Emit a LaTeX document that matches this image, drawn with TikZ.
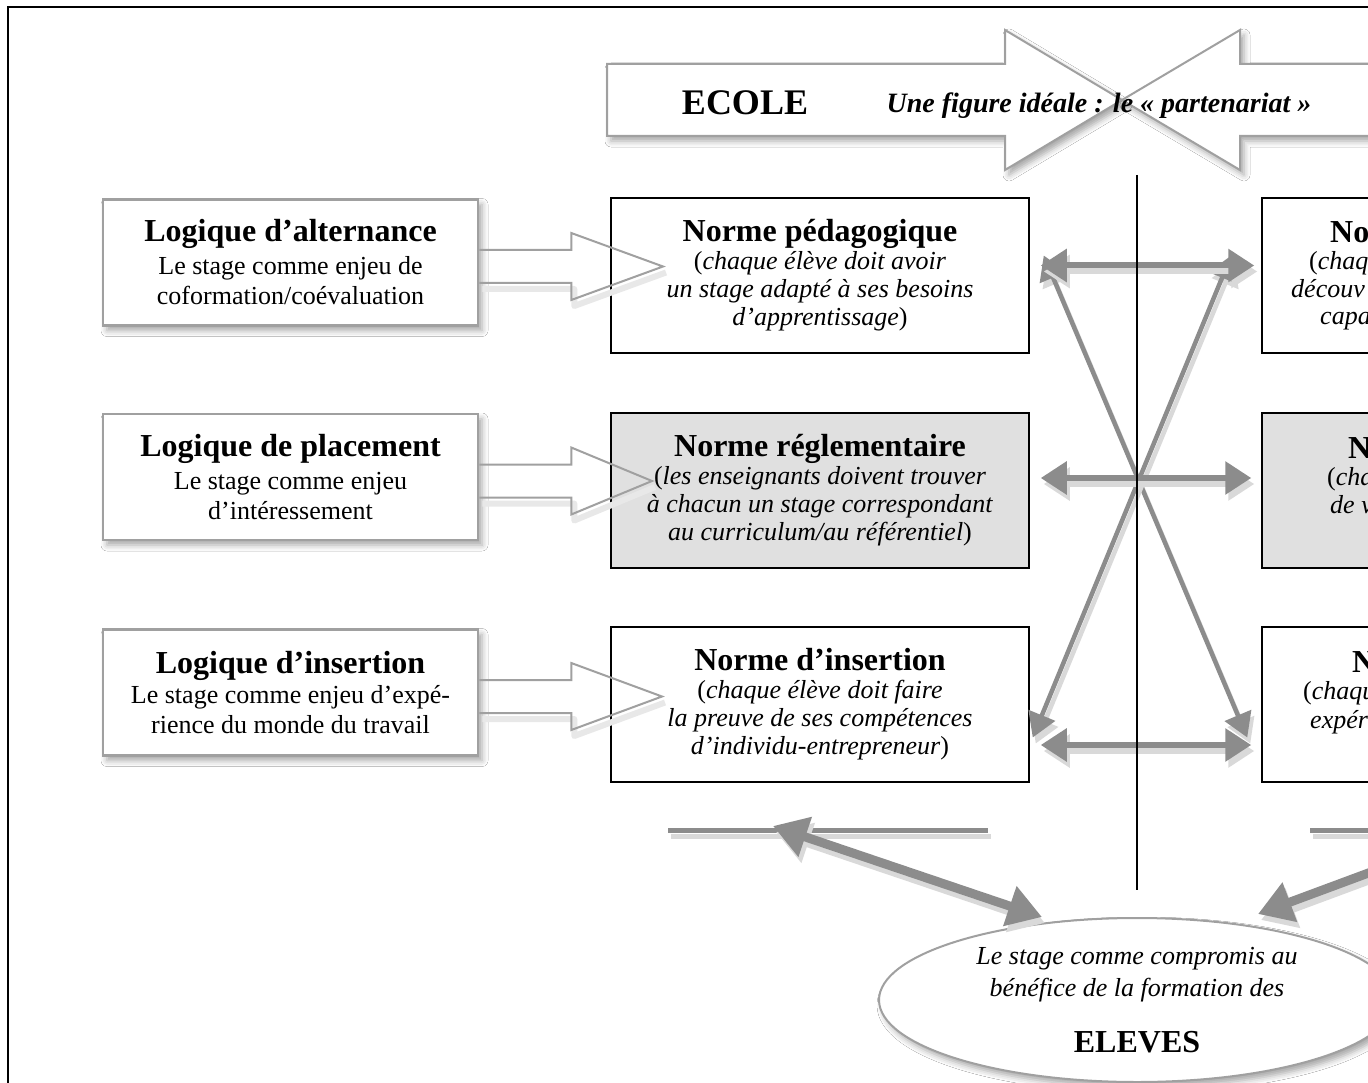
\documentclass[tikz,border=0pt]{standalone}
\usepackage{fontspec}
\setmainfont{Liberation Serif}
\usetikzlibrary{arrows.meta,shapes.geometric,shadows.blur,calc}
\definecolor{arrowgray}{HTML}{8C8C8C}
\definecolor{linegray}{HTML}{A0A0A0}
\definecolor{boxgray}{HTML}{E0E0E0}
\newcommand\mytitle{\fontsize{32}{34}\selectfont\bfseries}
\newcommand\mybody{\fontsize{26}{28}\selectfont}
\newcommand\mylogic{\fontsize{26}{30}\selectfont}
\begin{document}
\begin{tikzpicture}[x=1pt,y=-1pt,
  normbox/.style={draw=black, line width=1.5pt, minimum width=418pt, minimum height=155pt, align=center, inner sep=0pt, font=\mybody},
  logicbox/.style={draw=linegray, line width=2.5pt, fill=white, minimum width=375pt, minimum height=126pt, align=center, inner sep=0pt, font=\mylogic, blur shadow={shadow xshift=4pt, shadow yshift=-5pt, shadow blur radius=6pt, shadow opacity=35}},
  blockarrow/.style={draw=linegray, line width=2pt, line join=miter},
  blockshadow/.style={draw=black!9, line width=6pt, line join=round, transform canvas={shift={(3pt,-6pt)}}},
  frag/.style={anchor=base west, inner sep=0pt, font=\mybody\itshape},
  fragt/.style={anchor=base west, inner sep=0pt, font=\mytitle},
  garrow/.style={draw=arrowgray, line width=6pt, {Triangle[length=26pt,width=32pt]}-{Triangle[length=26pt,width=32pt]}},
  darrow/.style={draw=arrowgray, line width=4.5pt, {Triangle[length=24pt,width=28pt]}-{Triangle[length=24pt,width=28pt]}},
  tarrow/.style={draw=arrowgray, line width=9pt, {Triangle[length=34pt,width=40pt]}-{Triangle[length=34pt,width=40pt]}},
  gshadow/.style={draw=black!15, fill=black!15, transform canvas={shift={(3pt,-6pt)}}},
  hline/.style={draw=arrowgray, line width=5pt}
]
\clip (0,0) rectangle (1368,1083);
\fill[white] (0,0) rectangle (1368,1083);
\draw[line width=2pt] (8,1100) -- (8,7) -- (1400,7);

% ECOLE double arrow
\draw[draw=linegray, line width=2pt, fill=white, line join=miter, blur shadow={shadow xshift=4pt, shadow yshift=-5pt, shadow blur radius=6pt, shadow opacity=35}]
  (607,64) -- (1005,64) -- (1005,30) -- (1122,100) -- (1005,170) -- (1005,136) -- (607,136) -- cycle;
\draw[draw=linegray, line width=2pt, fill=white, line join=miter, blur shadow={shadow xshift=4pt, shadow yshift=-5pt, shadow blur radius=6pt, shadow opacity=35}]
  (1122,100) -- (1240,30) -- (1240,64) -- (1420,64) -- (1420,136) -- (1240,136) -- (1240,170) -- cycle;
\node[font=\fontsize{36}{38}\selectfont\bfseries] (ecole) at (745,103) {ECOLE};
\node[font=\fontsize{28}{30}\selectfont\bfseries\itshape] (ideal) at (1099,106) {Une figure idéale : le « partenariat »};

% logic boxes
\node[logicbox] (la1) at (290.5,262.5) {{\mytitle Logique d’alternance}\\[3pt]Le stage comme enjeu de\\coformation/coévaluation};
\node[logicbox] (la2) at (290.5,477) {{\mytitle Logique de placement}\\[3pt]Le stage comme enjeu\\d’intéressement};
\node[logicbox] (la3) at (290.5,692.5) {{\mytitle Logique d’insertion}\\[0pt]Le stage comme enjeu d’expé-\\rience du monde du travail};

% norm boxes (left)
\node[normbox] (nl1) at (820,275.5) {{\mytitle Norme pédagogique}\\(\textit{chaque élève doit avoir}\\\textit{un stage adapté à ses besoins}\\\textit{d’apprentissage})};
\node[normbox, fill=boxgray] (nl2) at (820,490.5) {{\mytitle Norme réglementaire}\\(\textit{les enseignants doivent trouver}\\\textit{à chacun un stage correspondant}\\\textit{au curriculum/au référentiel})};
\node[normbox] (nl3) at (820,704.5) {{\mytitle Norme d’insertion}\\(\textit{chaque élève doit faire}\\\textit{la preuve de ses compétences}\\\textit{d’individu-entrepreneur})};

% norm boxes (right, cut by the edge)
\node[normbox] (nr1) at (1471,275.5) {};
\node[normbox, fill=boxgray] (nr2) at (1471,490.5) {};
\node[normbox] (nr3) at (1471,704.5) {};
\node[fragt] (f11) at (1330,243) {No};
\node[frag] (f12) at (1309,270) {\upshape(\itshape chaq};
\node[frag] (f13) at (1291,298) {découv};
\node[frag] (f14) at (1320,325) {capa};
\node[fragt] (f21) at (1348,458) {N};
\node[frag] (f22) at (1327,485) {\upshape(\itshape cha};
\node[frag] (f23) at (1330,513) {de v};
\node[fragt] (f31) at (1352,672) {N};
\node[frag] (f32) at (1303,699) {\upshape(\itshape chaqu};
\node[frag] (f33) at (1310,728) {expér};

% block arrows from logic boxes
\coordinate (t1) at (663,266.5);
\coordinate (t2) at (652,481);
\coordinate (t3) at (662,696.5);
\foreach \b/\t in {la1/t1, la2/t2, la3/t3}{
  \draw[blockshadow] ($(\b.east)+(0,20.5)$) -- ($(\b.east)+(92,20.5)$) -- ($(\b.east)+(92,37.5)$) -- (\t);
  \draw[blockarrow] ($(\b.east)+(0,-12.5)$) -- ++(92,0) -- ++(0,-17) -- (\t) -- ($(\b.east)+(92,37.5)$) -- ++(0,-17) -- ($(\b.east)+(0,20.5)$);
}

% gray arrows between norms
\coordinate (h1l) at ($(nl1.east)+(11,-10)$);
\coordinate (h1r) at ($(nr1.west)+(-7,-10)$);
\coordinate (h2l) at ($(nl2.east)+(11,-12.5)$);
\coordinate (h2r) at ($(nr2.west)+(-10,-12.5)$);
\coordinate (h3l) at ($(nl3.east)+(11,40.5)$);
\coordinate (h3r) at ($(nr3.west)+(-10,40.5)$);
\coordinate (d1a) at ($(nl1.east)+(14,-20)$);
\coordinate (d1b) at ($(nr3.west)+(-14,33)$);
\coordinate (d2a) at ($(nr1.west)+(-30,-20)$);
\coordinate (d2b) at ($(nl3.east)+(3,33)$);
\foreach \p/\q in {d1a/d1b, d2a/d2b}{
  \draw[darrow, gshadow] (\p) -- (\q);
  \draw[darrow] (\p) -- (\q);
}
\foreach \p/\q in {h1l/h1r, h2l/h2r, h3l/h3r}{
  \draw[garrow, gshadow] (\p) -- (\q);
  \draw[garrow] (\p) -- (\q);
}

% vertical separator
\coordinate (vtop) at (1137,175);
\coordinate (vbot) at (1137,890);
\draw[line width=1.6pt] (vtop) -- (vbot);

% bottom
\node[ellipse, draw=linegray, line width=2pt, fill=white, minimum width=516pt, minimum height=164pt, inner sep=0pt, align=center, font=\fontsize{26}{32}\selectfont\itshape,
  blur shadow={shadow xshift=4pt, shadow yshift=-5pt, shadow blur radius=6pt, shadow opacity=35}] (el) at (1137,1000)
  {Le stage comme compromis au\\bénéfice de la formation des\\[24pt]{\upshape\bfseries\fontsize{32}{34}\selectfont ELEVES}};

\coordinate (l1a) at (668,830);
\coordinate (l1b) at (988,830);
\coordinate (l2a) at (1310,830);
\coordinate (l2b) at (1420,830);
\draw[hline, gshadow] (l1a) -- (l1b);
\draw[hline] (l1a) -- (l1b);
\draw[hline, gshadow] (l2a) -- (l2b);
\draw[hline] (l2a) -- (l2b);

\coordinate (b1) at (773,826);
\coordinate (b2) at (1495,826);
\draw[tarrow, gshadow] (b1) -- ($(el.north)+(-95,0)$);
\draw[tarrow] (b1) -- ($(el.north)+(-95,0)$);
\draw[tarrow, gshadow] (b2) -- ($(el.north)+(121,-3)$);
\draw[tarrow] (b2) -- ($(el.north)+(121,-3)$);
\end{tikzpicture}
\end{document}
